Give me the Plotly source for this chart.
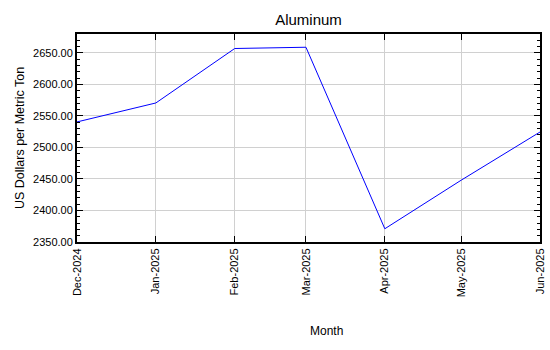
import plotly.graph_objects as go

months = ["2024-12-01", "2025-01-01", "2025-02-01", "2025-03-01", "2025-04-01", "2025-05-01", "2025-06-01"]
prices = [2540.5, 2570.6, 2657.0, 2659.0, 2371.0, 2448.0, 2524.5]

title_text = "Aluminum"
y_title = "US Dollars per Metric Ton"
x_title = "Month"

font = "Liberation Sans, Arial, sans-serif"

fig = go.Figure()
fig.add_trace(go.Scatter(x=months, y=prices, mode="lines",
                         line=dict(color="#0000ff", width=1)))

L, R, T, B = 77, 10, 34, 108
pw = 550 - L - R

fig.update_layout(
    width=550, height=350,
    margin=dict(l=L, r=R, t=T, b=B, autoexpand=False),
    paper_bgcolor="white", plot_bgcolor="white",
    showlegend=False,
    font=dict(family=font, color="black", size=11),
    title=dict(text=title_text, x=(L + pw / 2) / 550, xanchor="center", y=0.945, yanchor="middle",
               font=dict(size=15, family=font, color="black")),
    annotations=[dict(text=x_title, xref="paper", yref="paper", x=(326 - L) / pw, y=-(331 - (350 - B)) / (350 - T - B),
                      xanchor="center", yanchor="middle", showarrow=False, font=dict(size=12))],
)
fig.update_xaxes(
    type="date", range=["2024-12-01", "2025-06-01"], dtick="M1", tick0="2024-12-01",
    tickformat="%b-%Y", tickangle=-90, tickfont=dict(size=11),
    ticks="inside", ticklen=6, tickwidth=1, tickcolor="black",
    showline=True, linecolor="black", linewidth=2, mirror="allticks",
    showgrid=True, gridcolor="#d0d0d0", gridwidth=1,
    zeroline=False, automargin=False,
)
fig.update_yaxes(
    range=[2350, 2680], dtick=50, tick0=2350, tickformat=".2f",
    ticks="inside", ticklen=6, tickwidth=1, tickcolor="black",
    minor=dict(dtick=10, ticks="inside", ticklen=3, tickcolor="black", showgrid=False),
    showline=True, linecolor="black", linewidth=2, mirror="allticks",
    showgrid=True, gridcolor="#d0d0d0", gridwidth=1,
    zeroline=False, automargin=False,
    title=dict(text=y_title, font=dict(size=12.5), standoff=6),
)

fig.write_html("out.html")
